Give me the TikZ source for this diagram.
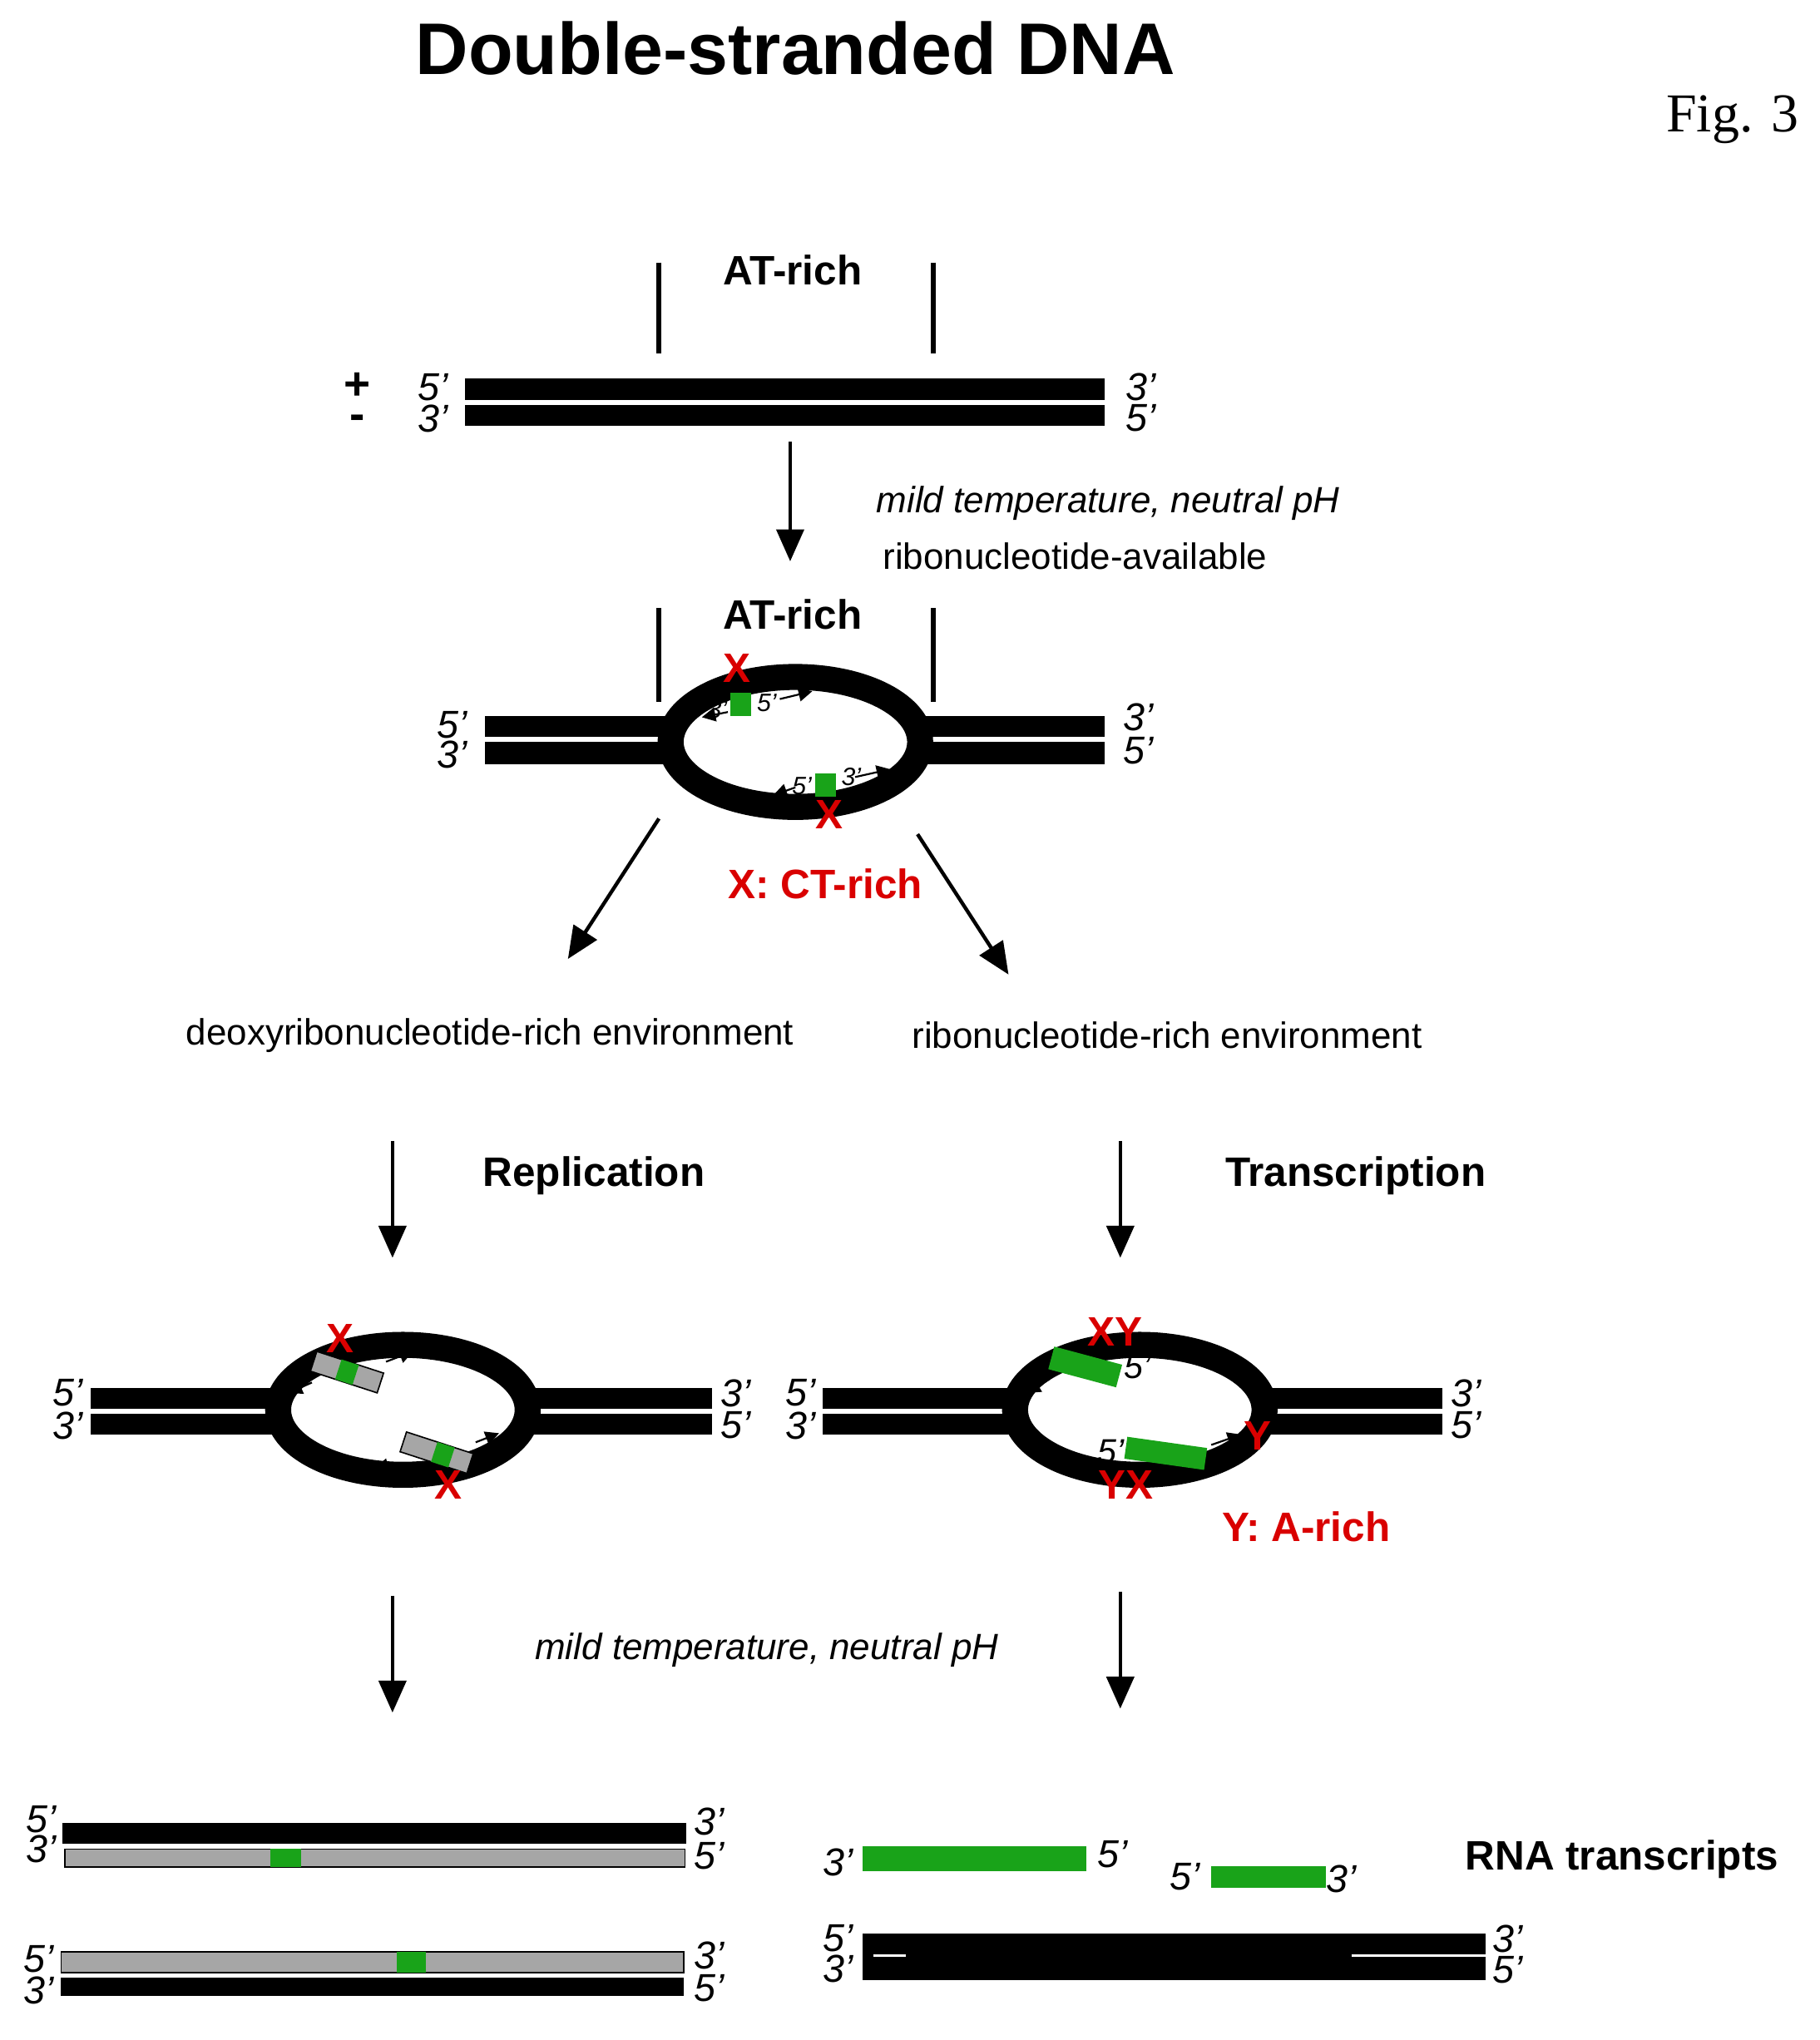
\documentclass[tikz,border=0pt]{standalone}
\usepackage{fontspec}
\setmainfont{Liberation Sans}
\newfontfamily\figfont{Liberation Serif}
\usetikzlibrary{arrows.meta}
\begin{document}
\begin{tikzpicture}[x=0.01cm,y=-0.01cm,
    strand/.style ={fill=black},
    copystrand/.style ={fill=gray!70, draw=black, line width=0.3pt},
    rna/.style ={fill=green!60!black!90},
    bubble/.style ={draw=black, fill=white, line width=0.2cm},
    step arrow/.style ={line width=0.8pt, -{Triangle[length=7pt,width=6pt]}},
    tiny arrow/.style ={line width=0.4pt, -{Triangle[length=3pt,width=3pt]}},
    endlabel/.style ={font=\fontsize{8.5}{8.5}\selectfont\itshape, inner sep=0pt},
    smalllabel/.style ={font=\fontsize{5.5}{6}\selectfont\itshape, inner sep=0pt},
    note/.style ={font=\fontsize{8}{10}\selectfont},
    heading/.style ={font=\fontsize{9}{10}\selectfont\bfseries},
    redmark/.style ={font=\fontsize{9}{10}\selectfont\bfseries, text=red!85!black, inner sep=0pt}]
   \useasboundingbox (0,0) rectangle (1400,1570);
   % titles
   \node[font=\fontsize{16}{18}\selectfont\bfseries] (title) at (612,37) {Double-stranded DNA};
   \node[font=\fontsize{12}{12}\selectfont\figfont] (fig) at (1333,92) {Fig. 3};
   % first duplex
   \draw[line width=1.2pt] (507,202) -- (507,272) (718,202) -- (718,272);
   \node[heading] (at1) at (610,208) {AT-rich};
   \fill[strand] (358,291) rectangle (850,308);
   \fill[strand] (358,312) rectangle (850,328);
   \node[font=\bfseries, inner sep=0pt] (plus) at (275,297) {+};
   \node[font=\bfseries, inner sep=0pt] (minus) at (275,325) {-};
   \node[endlabel] (a5) at (333,298) {5'};
   \node[endlabel] (a3) at (333,322) {3'};
   \node[endlabel] (b3) at (878,298) {3'};
   \node[endlabel] (b5) at (878,322) {5'};
   \coordinate (s1) at (608,340);
   \coordinate (e1) at (608,432);
   \draw[step arrow] (s1) -- (e1);
   \node[note, anchor=west, font=\fontsize{8}{10}\selectfont\itshape] (cond1) at (662,387) {mild temperature, neutral pH};
   \node[note, anchor=west] (ribo) at (667,428) {ribonucleotide-available};
   % opened bubble
   \draw[line width=1.2pt] (507,468) -- (507,540) (718,468) -- (718,540);
   \node[heading] (at2) at (610,473) {AT-rich};
   \fill[strand] (373,551) rectangle (540,567);
   \fill[strand] (373,571) rectangle (540,588);
   \fill[strand] (690,551) rectangle (850,567);
   \fill[strand] (690,571) rectangle (850,588);
   \draw[bubble] (612,571) ellipse (96 and 50);
   \fill[rna] (562,533) rectangle (578,551);
   \fill[rna] (627,595) rectangle (643,613);
   \draw[tiny arrow] (560,548) -- (540,552);
   \draw[tiny arrow] (600,538) -- (625,532);
   \draw[tiny arrow] (612,606) -- (595,612);
   \draw[tiny arrow] (658,598) -- (685,592);
   \node[smalllabel] (c3) at (552,546) {3'};
   \node[smalllabel] (c5) at (590,541) {5'};
   \node[smalllabel] (d5) at (617,605) {5'};
   \node[smalllabel] (d3) at (655,598) {3'};
   \node[endlabel] (c5l) at (348,558) {5'};
   \node[endlabel] (c3l) at (348,581) {3'};
   \node[endlabel] (c3r) at (876,552) {3'};
   \node[endlabel] (c5r) at (876,578) {5'};
   \node[redmark] (x1) at (567,514) {X};
   \node[redmark] (x2) at (638,627) {X};
   \node[redmark] (ct) at (635,680) {X: CT-rich};
   \coordinate (s2) at (507,630);
   \coordinate (e2) at (437,738);
   \coordinate (s3) at (706,642);
   \coordinate (e3) at (776,750);
   \draw[step arrow] (s2) -- (e2);
   \draw[step arrow] (s3) -- (e3);
   \node[note] (deoxy) at (377,797) {deoxyribonucleotide-rich environment};
   \node[note] (ribenv) at (898,797) {ribonucleotide-rich environment};
   \coordinate (s4) at (302,878);
   \coordinate (e4) at (302,968);
   \coordinate (s5) at (862,878);
   \coordinate (e5) at (862,968);
   \draw[step arrow] (s4) -- (e4);
   \draw[step arrow] (s5) -- (e5);
   \node[heading] (repl) at (457,905) {Replication};
   \node[heading] (trans) at (1043,905) {Transcription};
   % replication bubble
   \fill[strand] (70,1068) rectangle (230,1084);
   \fill[strand] (70,1088) rectangle (230,1104);
   \fill[strand] (390,1068) rectangle (548,1084);
   \fill[strand] (390,1088) rectangle (548,1104);
   \draw[bubble] (310,1085) ellipse (96 and 50);
   \fill[copystrand, rotate around={-18:(267,1056)}] (240,1048) rectangle (294,1064);
   \fill[rna, rotate around={-18:(267,1056)}] (260,1048) rectangle (274,1064);
   \fill[copystrand, rotate around={-18:(336,1118)}] (309,1110) rectangle (363,1126);
   \fill[rna, rotate around={-18:(336,1118)}] (334,1110) rectangle (348,1126);
   \draw[tiny arrow] (240,1064) -- (222,1072);
   \draw[tiny arrow] (297,1048) -- (318,1040);
   \draw[tiny arrow] (306,1126) -- (288,1130);
   \draw[tiny arrow] (366,1110) -- (384,1103);
   \node[redmark] (x3) at (262,1030) {X};
   \node[redmark] (x4) at (345,1143) {X};
   \node[endlabel] (e5l) at (52,1072) {5'};
   \node[endlabel] (e3l) at (52,1097) {3'};
   \node[endlabel] (e3r) at (566,1072) {3'};
   \node[endlabel] (e5r) at (566,1097) {5'};
   % transcription bubble
   \fill[strand] (633,1068) rectangle (797,1084);
   \fill[strand] (633,1088) rectangle (797,1104);
   \fill[strand] (957,1068) rectangle (1110,1084);
   \fill[strand] (957,1088) rectangle (1110,1104);
   \draw[bubble] (877,1085) ellipse (96 and 50);
   \fill[rna, rotate around={-15:(835,1052)}] (808,1043) rectangle (862,1061);
   \fill[rna, rotate around={-8:(897,1118)}] (866,1110) rectangle (928,1127);
   \draw[tiny arrow] (808,1061) -- (790,1072);
   \draw[tiny arrow] (932,1112) -- (955,1104);
   \node[smalllabel, font=\fontsize{7.5}{8}\selectfont\itshape] (f5) at (875,1052) {5'};
   \node[smalllabel, font=\fontsize{7.5}{8}\selectfont\itshape] (g5) at (855,1117) {5'};
   \node[redmark] (xy1) at (858,1025) {XY};
   \node[redmark] (yx1) at (866,1143) {YX};
   \node[redmark] (y1) at (968,1105) {Y};
   \node[redmark] (arich) at (1005,1175) {Y: A-rich};
   \node[endlabel] (f5l) at (616,1072) {5'};
   \node[endlabel] (f3l) at (616,1097) {3'};
   \node[endlabel] (f3r) at (1128,1072) {3'};
   \node[endlabel] (f5r) at (1128,1097) {5'};
   \coordinate (s6) at (302,1228);
   \coordinate (e6) at (302,1318);
   \coordinate (s7) at (862,1225);
   \coordinate (e7) at (862,1315);
   \draw[step arrow] (s6) -- (e6);
   \draw[step arrow] (s7) -- (e7);
   \node[note, font=\fontsize{8}{10}\selectfont\itshape] (cond2) at (590,1270) {mild temperature, neutral pH};
   % daughter duplexes
   \fill[strand] (48,1403) rectangle (528,1419);
   \fill[copystrand] (50,1423) rectangle (527,1437);
   \fill[rna] (208,1423) rectangle (232,1437);
   \node[endlabel] (h5l) at (32,1400) {5'};
   \node[endlabel] (h3l) at (32,1423) {3'};
   \node[endlabel] (h3r) at (546,1402) {3'};
   \node[endlabel] (h5r) at (546,1428) {5'};
   \fill[copystrand] (47,1502) rectangle (526,1518);
   \fill[rna] (305,1502) rectangle (328,1518);
   \fill[strand] (47,1522) rectangle (526,1536);
   \node[endlabel] (k5l) at (30,1508) {5'};
   \node[endlabel] (k3l) at (30,1532) {3'};
   \node[endlabel] (k3r) at (546,1505) {3'};
   \node[endlabel] (k5r) at (546,1530) {5'};
   % transcripts
   \fill[rna] (664,1421) rectangle (836,1440);
   \node[endlabel] (m3) at (645,1433) {3'};
   \node[endlabel] (m5) at (856,1427) {5'};
   \fill[rna] (932,1436) rectangle (1020,1453);
   \node[endlabel] (n5) at (912,1444) {5'};
   \node[endlabel] (n3) at (1032,1446) {3'};
   \node[heading] (rnat) at (1248,1431) {RNA transcripts};
   \fill[strand] (664,1488) rectangle (1143,1524);
   \draw[white, line width=0.4pt] (672,1505) -- (697,1505) (1040,1505) -- (1143,1505);
   \node[endlabel] (p5l) at (645,1492) {5'};
   \node[endlabel] (p3l) at (645,1515) {3'};
   \node[endlabel] (p3r) at (1160,1492) {3'};
   \node[endlabel] (p5r) at (1160,1516) {5'};
\end{tikzpicture}
\end{document}
